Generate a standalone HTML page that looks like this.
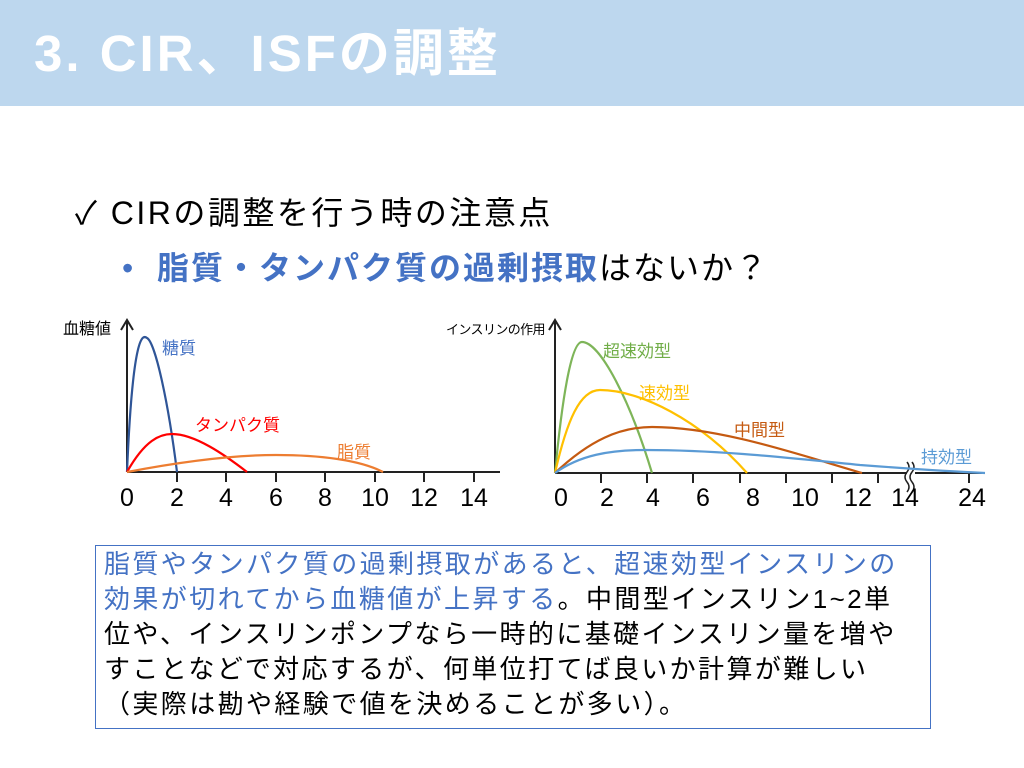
<!DOCTYPE html>
<html><head><meta charset="utf-8"><style>
body{margin:0;width:1024px;height:768px;position:relative;background:#fff;overflow:hidden;font-family:"Liberation Sans","Noto Sans CJK JP",sans-serif;}
.t{position:absolute;white-space:nowrap;}
</style></head><body>
<div style="position:absolute;left:0;top:0;width:1024px;height:106px;background:#bdd7ee"></div>
<div class="t" style="left:34px;top:22px;font-size:51px;font-weight:bold;color:#fff;line-height:64px;letter-spacing:3px">3. CIR、ISFの調整</div>
<div class="t" style="left:75px;top:192px;font-size:32px;line-height:42px;color:#000;letter-spacing:2.5px">✓ CIRの調整を行う時の注意点</div>
<div class="t" style="left:122px;top:247px;font-size:32px;line-height:42px;color:#000;letter-spacing:2px"><span style="color:#4472c4">•&nbsp; <b>脂質・タンパク質の過剰摂取</b></span>はないか？</div>
<svg style="position:absolute;left:0;top:0" width="1024" height="768">
<g fill="none" stroke="#222" stroke-width="2">
<line x1="127" y1="472" x2="127" y2="320"/><polyline points="121,330 127,320 133,330"/>
<line x1="127" y1="472" x2="500" y2="472"/>
<line x1="555" y1="473" x2="555" y2="320"/><polyline points="549,330 555,320 561,330"/>
<line x1="555" y1="473" x2="907" y2="473"/><line x1="915" y1="473" x2="985" y2="473"/>
</g>
<g stroke="#222" stroke-width="2">
<line x1="177" y1="472" x2="177" y2="482"/><line x1="226" y1="472" x2="226" y2="482"/><line x1="276" y1="472" x2="276" y2="482"/><line x1="325" y1="472" x2="325" y2="482"/><line x1="375" y1="472" x2="375" y2="482"/><line x1="424" y1="472" x2="424" y2="482"/><line x1="474" y1="472" x2="474" y2="482"/>
<line x1="601" y1="473" x2="601" y2="483"/><line x1="647" y1="473" x2="647" y2="483"/><line x1="693" y1="473" x2="693" y2="483"/><line x1="740" y1="473" x2="740" y2="483"/><line x1="786" y1="473" x2="786" y2="483"/><line x1="832" y1="473" x2="832" y2="483"/><line x1="878" y1="473" x2="878" y2="483"/><line x1="969" y1="473" x2="969" y2="483"/>
</g>
<path d="M907,462 q4,5 0,10 q-4,5 0,10 q4,5 0,10 M912,462 q4,5 0,10 q-4,5 0,10 q4,5 0,10" stroke="#222" stroke-width="1.5" fill="none"/>
<g fill="none" stroke-width="2.2">
<path d="M127,472 C133,330 143,335 147,338 C155,342 168,400 177,472" stroke="#2f5597"/>
<path d="M127,472 C145,440 160,434 172,434 C195,434 225,455 247,472" stroke="#ff0000"/>
<path d="M127,472 C190,460 240,455 276,455 C320,455 360,460 383,472" stroke="#ed7d31"/>
<path d="M555,473 C563,390 572,342 582,342 C600,342 630,400 652,473" stroke="#70ad47" stroke-opacity="0.9"/>
<path d="M555,473 C567,420 580,390 600,390 C640,390 700,420 747,473" stroke="#ffc000"/>
<path d="M555,473 C590,440 620,427 652,427 C720,427 800,455 862,473" stroke="#c55a11"/>
<path d="M555,473 C580,455 610,450 645,450 C720,450 790,458 860,465 C900,468 940,471 985,473" stroke="#5b9bd5"/>
</g>
<g font-size="25" fill="#000" text-anchor="middle" font-family="Liberation Sans, sans-serif">
<text x="127" y="506">0</text><text x="177" y="506">2</text><text x="226" y="506">4</text><text x="276" y="506">6</text><text x="325" y="506">8</text><text x="375" y="506">10</text><text x="424" y="506">12</text><text x="474" y="506">14</text>
<text x="561" y="506">0</text><text x="607" y="506">2</text><text x="653" y="506">4</text><text x="703" y="506">6</text><text x="753" y="506">8</text><text x="805" y="506">10</text><text x="858" y="506">12</text><text x="905" y="506">14</text><text x="972" y="506">24</text>
</g>
<g font-size="17" font-family="Liberation Sans, Noto Sans CJK JP, sans-serif">
<text x="63" y="334" fill="#000" font-size="16">血糖値</text>
<text x="446" y="334" fill="#000" font-size="13" letter-spacing="-0.6">インスリンの作用</text>
<text x="162" y="354" fill="#4472c4">糖質</text>
<text x="195" y="431" fill="#ff0000">タンパク質</text>
<text x="337" y="458" fill="#ed7d31">脂質</text>
<text x="603" y="357" fill="#70ad47">超速効型</text>
<text x="639" y="399" fill="#ffc000">速効型</text>
<text x="734" y="436" fill="#c55a11">中間型</text>
<text x="921" y="463" fill="#5b9bd5">持効型</text>
</g>
</svg>
<div style="position:absolute;left:95px;top:545px;width:834px;height:182px;border:1.5px solid #4472c4"></div>
<div class="t" style="left:104px;top:547px;font-size:26px;line-height:35px;color:#000;white-space:nowrap;letter-spacing:2.4px">
<span style="color:#4472c4">脂質やタンパク質の過剰摂取があると、超速効型インスリンの<br>効果が切れてから血糖値が上昇する</span>。中間型インスリン1~2単<br>位や、インスリンポンプなら一時的に基礎インスリン量を増や<br>すことなどで対応するが、何単位打てば良いか計算が難しい<br>（実際は勘や経験で値を決めることが多い）。</div>
</body></html>
